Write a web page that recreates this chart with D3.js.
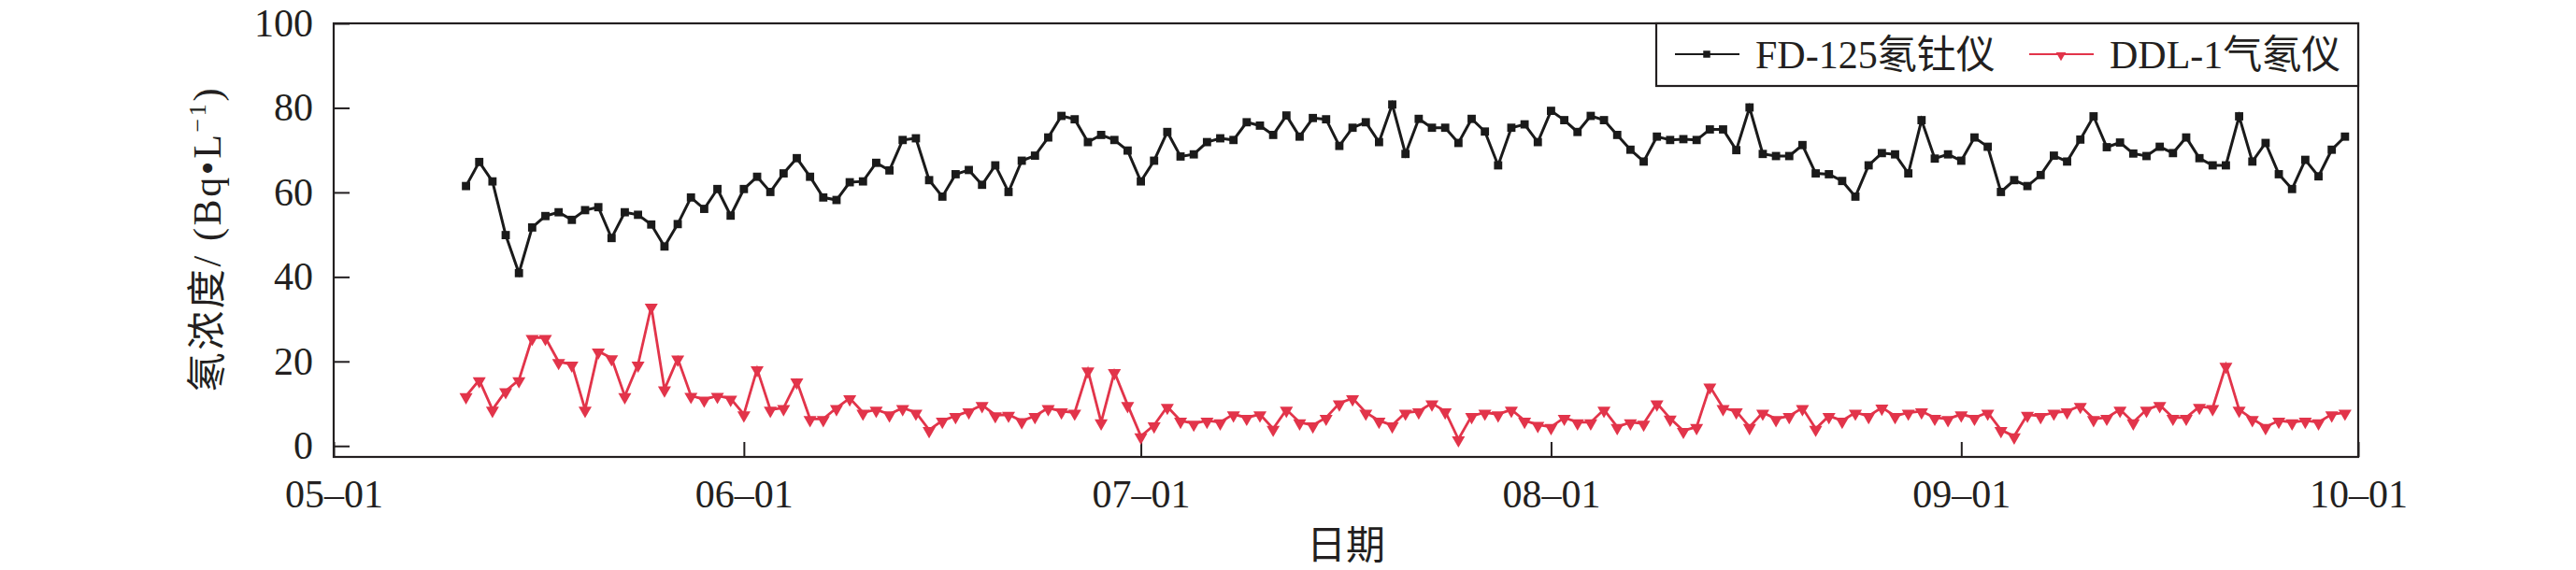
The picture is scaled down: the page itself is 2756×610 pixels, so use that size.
<!DOCTYPE html>
<html>
<head>
<meta charset="utf-8">
<script src="https://cdn.jsdelivr.net/npm/d3@7/dist/d3.min.js"></script>
<style>
  html, body { margin: 0; padding: 0; background: #fff; }
  svg { display: block; }
</style>
</head>
<body>
<svg id="chart" width="2756" height="610"></svg>
<script>
// ---------------- data ----------------
const firstDay = "2021-05-11";   // first daily sample
const lastDay  = "2021-09-30";   // last daily sample
const xDomain  = ["2021-05-01", "2021-10-01"];
const xTickDates = ["2021-05-01", "2021-06-01", "2021-07-01", "2021-08-01", "2021-09-01", "2021-10-01"];
const yTicks = [0, 20, 40, 60, 80, 100];
const seriesNames = ["FD-125氡钍仪", "DDL-1气氡仪"];
const xTitle = "日期";

// FD-125 radon-thorium meter (Bq/L), daily from 05-11 to 09-30
const fd125 = [
  61.5,67.2,62.6,49.9,40.9,51.7,54.4,55.3,53.5,55.8,
  56.5,49.2,55.3,54.7,52.4,47.2,52.5,58.8,56.1,60.8,
  54.5,60.8,63.7,60.1,64.5,68.1,63.7,58.8,58.2,62.4,
  62.6,67.0,65.2,72.4,72.8,62.9,59.0,64.3,65.3,61.8,
  66.4,60.1,67.5,68.7,73.0,78.1,77.3,71.9,73.6,72.4,
  69.9,62.6,67.5,74.3,68.5,69.0,71.9,72.8,72.4,76.6,
  75.8,73.6,78.2,73.2,77.6,77.3,71.0,75.3,76.6,71.9,
  80.8,69.1,77.4,75.3,75.3,71.7,77.4,74.4,66.4,75.3,
  76.1,71.9,79.3,77.1,74.3,78.1,77.1,73.6,70.1,67.3,
  73.2,72.4,72.6,72.4,74.9,74.9,70.0,80.1,69.1,68.6,
  68.6,71.2,64.5,64.3,62.7,59.0,66.4,69.3,69.0,64.5,
  77.1,68.0,69.0,67.5,73.0,70.8,60.1,62.9,61.5,64.1,
  68.7,67.3,72.5,78.0,70.7,71.8,69.2,68.6,70.8,69.3,
  73.0,68.1,66.4,66.4,78.0,67.3,71.7,64.3,60.8,67.7,
  63.8,70.1,73.2
];
// DDL-1 gas radon meter (Bq/L), same days
const ddl1 = [
  11.8,15.6,8.6,13.0,15.6,25.6,25.6,19.9,19.3,8.6,
  22.4,20.8,11.8,19.3,33.0,13.4,20.7,11.9,11.0,11.9,
  11.2,7.5,18.2,8.6,9.0,15.3,6.4,6.4,9.0,11.3,
  7.9,8.6,7.5,9.0,7.9,3.8,6.0,7.1,8.2,9.7,
  7.3,7.4,5.9,7.1,9.0,8.2,7.9,17.9,5.6,17.5,
  9.7,2.3,4.9,9.3,6.0,5.3,6.0,5.6,7.5,6.7,
  7.5,4.1,8.6,5.6,4.9,6.7,10.1,11.3,7.9,6.0,
  4.9,7.9,8.2,10.1,8.2,1.6,7.1,7.9,7.5,8.6,
  6.0,5.0,4.5,6.7,5.6,5.6,8.6,4.5,5.6,5.3,
  10.1,6.5,3.6,4.5,14.1,9.0,8.2,4.5,7.9,6.4,
  7.1,9.0,4.1,7.1,6.0,7.9,7.1,9.1,7.1,7.9,
  8.2,6.7,6.4,7.5,6.7,7.9,3.8,2.3,7.4,7.1,
  7.9,8.2,9.5,6.4,6.7,8.6,5.6,8.6,9.7,6.7,
  6.7,9.3,9.0,19.0,8.6,6.4,4.5,6.0,5.6,6.0,
  5.6,7.5,7.9
];

// ---------------- layout / style ----------------
const W = 2756, H = 610;
const pL = 357, pR = 2523, pT = 25, pB = 489;
const FONT = "'Liberation Serif','Times New Roman','Noto Sans CJK SC',serif";
const INK = "#231f20";
const RED = "#e2344a";

const parse = d3.timeParse("%Y-%m-%d");
const dates = d3.timeDay.range(parse(firstDay), d3.timeDay.offset(parse(lastDay), 1));
const rowsFD  = dates.map((d, i) => ({ date: d, v: fd125[i] }));
const rowsDDL = dates.map((d, i) => ({ date: d, v: ddl1[i] }));

const svg = d3.select("#chart");
svg.append("rect").attr("width", W).attr("height", H).attr("fill", "#fff");

const x = d3.scaleTime().domain(xDomain.map(parse)).range([pL, pR]);
const y = d3.scaleLinear().domain([-2.6, 100]).range([pB, pT]);

// axes
const yAxis = d3.axisLeft(y).tickValues(yTicks).tickSize(-17).tickPadding(22).tickFormat(d3.format("d"));
const gy = svg.append("g").attr("transform", `translate(${pL},0)`).call(yAxis);
const xAxis = d3.axisBottom(x).tickValues(xTickDates.map(parse)).tickSize(-16).tickPadding(24)
  .tickFormat(d3.timeFormat("%m–%d"));
const gx = svg.append("g").attr("transform", `translate(0,${pB})`).call(xAxis);

[gx, gy].forEach(g => {
  g.select(".domain").remove();
  g.selectAll(".tick line").attr("stroke", INK).attr("stroke-width", 2);
  g.selectAll(".tick text").attr("fill", INK).style("font-family", FONT).style("font-size", "42px");
});

// frame
svg.append("rect")
  .attr("x", pL).attr("y", pT).attr("width", pR - pL).attr("height", pB - pT)
  .attr("fill", "none").attr("stroke", INK).attr("stroke-width", 2.2);

// lines
const line = d3.line().x(d => x(d.date)).y(d => y(d.v));
svg.append("path").datum(rowsFD).attr("d", line)
  .attr("fill", "none").attr("stroke", "#1a1a1a").attr("stroke-width", 3).attr("stroke-linejoin", "miter");
svg.append("path").datum(rowsDDL).attr("d", line)
  .attr("fill", "none").attr("stroke", RED).attr("stroke-width", 2.8).attr("stroke-linejoin", "miter");

// markers
const sq = d3.symbol().type(d3.symbolSquare).size(78);
svg.append("g").selectAll("path").data(rowsFD).join("path")
  .attr("d", sq).attr("fill", "#1a1a1a")
  .attr("transform", d => `translate(${x(d.date)},${y(d.v)})`);
const tri = d3.symbol().type(d3.symbolTriangle).size(85);
svg.append("g").selectAll("path").data(rowsDDL).join("path")
  .attr("d", tri).attr("fill", RED)
  .attr("transform", d => `translate(${x(d.date)},${y(d.v) + 1}) rotate(180)`);

// legend
const lg = svg.append("g");
lg.append("rect").attr("x", 1772).attr("y", pT).attr("width", pR - 1772).attr("height", 92 - pT)
  .attr("fill", "#fff").attr("stroke", INK).attr("stroke-width", 2.2);
const legendItems = [
  { name: seriesNames[0], color: "#1a1a1a", sym: d3.symbol().type(d3.symbolSquare).size(56), x0: 1792, rot: 0 },
  { name: seriesNames[1], color: RED, sym: d3.symbol().type(d3.symbolTriangle).size(50), x0: 2171, rot: 180 }
];
legendItems.forEach(it => {
  lg.append("line").attr("x1", it.x0).attr("x2", it.x0 + 69).attr("y1", 58).attr("y2", 58)
    .attr("stroke", it.color).attr("stroke-width", 2.2);
  lg.append("path").attr("d", it.sym()).attr("fill", it.color)
    .attr("transform", `translate(${it.x0 + 34},${58 + (it.rot ? 1 : 0)}) rotate(${it.rot})`);
  lg.append("text").attr("x", it.x0 + 86).attr("y", 73)
    .style("font-family", FONT).style("font-size", "42px").attr("fill", INK).text(it.name);
});

// axis titles
svg.append("text").attr("x", (pL + pR) / 2).attr("y", 598).attr("text-anchor", "middle")
  .style("font-family", FONT).style("font-size", "42px").attr("fill", INK).text(xTitle);

const yt = svg.append("text").attr("transform", "translate(236,257) rotate(-90)")
  .attr("text-anchor", "middle").attr("textLength", 325).attr("lengthAdjust", "spacing")
  .style("font-family", FONT).style("font-size", "42px").attr("fill", INK);
yt.append("tspan").text("氡浓度/ (Bq•L");
yt.append("tspan").attr("dy", -16).style("font-size", "26px").text("−1");
yt.append("tspan").attr("dy", 16).text(")");
</script>
</body>
</html>
